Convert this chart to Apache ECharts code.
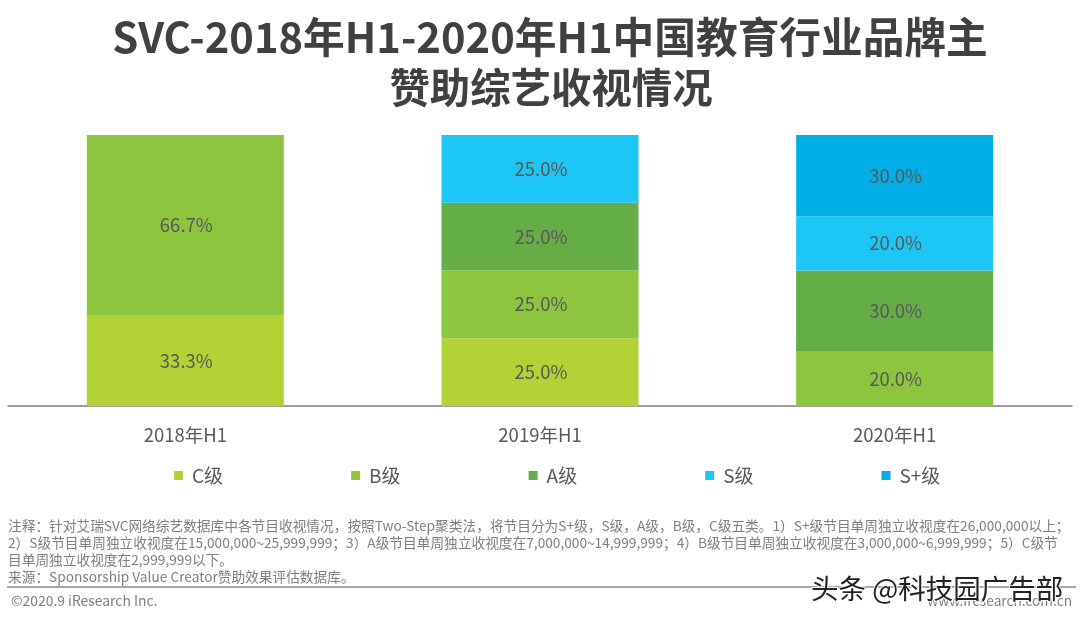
<!DOCTYPE html>
<html>
<head>
<meta charset="utf-8">
<title>SVC</title>
<style>
html, body { margin: 0; padding: 0; background: #fff; }
#container { width: 1080px; height: 622px; }
</style>
<script src="https://cdn.jsdelivr.net/npm/echarts@6/dist/echarts.min.js"></script>
</head>
<body>
<div id="container"></div>
<script>
var periods = ['2018年H1', '2019年H1', '2020年H1'];
var gradeC = [33.3, 25.0, null];
var gradeB = [66.7, 25.0, 20.0];
var gradeA = [null, 25.0, 30.0];
var gradeS = [null, 25.0, 20.0];
var gradeSPlus = [null, null, 30.0];

var titleTop = 'SVC-2018年H1-2020年H1中国教育行业品牌主';
var titleBottom = '赞助综艺收视情况';
var noteLines = [
    '注释：针对艾瑞SVC网络综艺数据库中各节目收视情况，按照Two-Step聚类法，将节目分为S+级，S级，A级，B级，C级五类。1）S+级节目单周独立收视度在26,000,000以上；',
    '2）S级节目单周独立收视度在15,000,000~25,999,999；3）A级节目单周独立收视度在7,000,000~14,999,999；4）B级节目单周独立收视度在3,000,000~6,999,999；5）C级节',
    '目单周独立收视度在2,999,999以下。',
    '来源：Sponsorship Value Creator赞助效果评估数据库。'
];

var fontCn = '"Noto Sans CJK SC", "Noto Sans", sans-serif';

function stackSeries(name, values, color) {
    return {
        name: name,
        type: 'bar',
        stack: 'total',
        barWidth: 197,
        data: values,
        itemStyle: { color: color },
        label: {
            show: true,
            position: 'inside',
            offset: [1, 0],
            color: '#595959',
            fontSize: 18.5,
            fontFamily: fontCn,
            formatter: function (p) { return p.value.toFixed(1) + '%'; }
        }
    };
}

var dom = document.getElementById('container');
var myChart = echarts.init(dom, null, { renderer: 'canvas' });

myChart.setOption({
    animation: false,
    backgroundColor: '#fff',
    grid: { left: 8, right: 8, top: 135, bottom: 216 },
    legend: {
        left: 169,
        top: 461,
        icon: 'rect',
        itemWidth: 9,
        itemHeight: 9,
        itemGap: 128,
        textStyle: { color: '#595959', fontSize: 19, fontFamily: fontCn, padding: [0, 0, 0, 4] },
        data: ['C级', 'B级', 'A级', 'S级', 'S+级']
    },
    xAxis: {
        type: 'category',
        data: periods,
        axisTick: { show: false },
        axisLine: { lineStyle: { color: '#7f7f7f', width: 1.5 } },
        axisLabel: { color: '#595959', fontSize: 18.5, fontFamily: fontCn, margin: 20 }
    },
    yAxis: { type: 'value', min: 0, max: 100, show: false },
    series: [
        stackSeries('C级', gradeC, '#b2d235'),
        stackSeries('B级', gradeB, '#8cc63f'),
        stackSeries('A级', gradeA, '#65ae47'),
        stackSeries('S级', gradeS, '#1cc7f5'),
        stackSeries('S+级', gradeSPlus, '#00aee8')
    ],
    graphic: [
        {
            type: 'text', x: 550, y: 37,
            style: {
                text: titleTop, fill: '#404040', align: 'center', verticalAlign: 'middle',
                font: 'bold 41.7px ' + fontCn
            }
        },
        {
            type: 'text', x: 551, y: 88,
            style: {
                text: titleBottom, fill: '#404040', align: 'center', verticalAlign: 'middle',
                font: 'bold 40.4px ' + fontCn
            }
        },
        {
            type: 'text', left: 8, top: 517,
            style: {
                text: noteLines.join('\n'), fill: '#7f7f7f',
                font: '13.7px ' + fontCn, lineHeight: 17
            }
        },
        {
            type: 'line', shape: { x1: 7, y1: 587, x2: 1076, y2: 587 },
            style: { stroke: '#a6a6a6', lineWidth: 2 }
        },
        {
            type: 'text', left: 11, top: 594,
            style: { text: '©2020.9 iResearch Inc.', fill: '#7f7f7f', font: '13.9px ' + fontCn }
        },
        {
            type: 'text', right: 8, top: 594,
            style: { text: 'www.iresearch.com.cn', fill: '#7f7f7f', font: '13.7px ' + fontCn }
        },
        {
            type: 'text', left: 810, top: 574,
            style: {
                text: '头条 @科技园广告部', fill: '#222222',
                font: '27.5px ' + fontCn,
                stroke: '#ffffff', lineWidth: 2
            }
        }
    ]
});

window.addEventListener('resize', function () {
    myChart.resize();
});
</script>
</body>
</html>
